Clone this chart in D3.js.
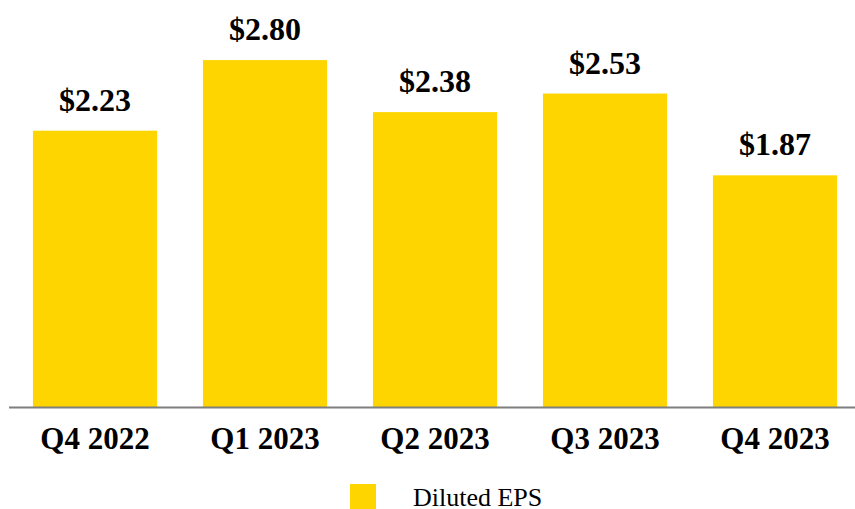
<!DOCTYPE html>
<html>
<head>
<meta charset="utf-8">
<script src="https://cdn.jsdelivr.net/npm/d3@7"></script>
<style>
  body { margin: 0; background: #fff; }
  svg { display: block; }
</style>
</head>
<body>
<script>
// quarters and diluted EPS values
const quarters = ['Q4 2022', 'Q1 2023', 'Q2 2023', 'Q3 2023', 'Q4 2023'];
const eps = [2.23, 2.80, 2.38, 2.53, 1.87];
const seriesName = 'Diluted EPS';

const width = 855, height = 509;
const barColor = '#FFD500';
const font = '"Liberation Serif", "Times New Roman", serif';

const svg = d3.select('body')
  .append('svg')
  .attr('width', width)
  .attr('height', height);

const x = d3.scaleBand()
  .domain(quarters)
  .range([10, 860])
  .paddingInner(0.27)
  .paddingOuter(0.135);

const y = d3.scaleLinear()
  .domain([0, 3])
  .range([407, 35.3]);

const data = quarters.map((q, i) => ({ q: q, v: eps[i] }));

// bars
svg.append('g')
  .selectAll('rect')
  .data(data)
  .enter()
  .append('rect')
  .attr('x', d => x(d.q))
  .attr('y', d => y(d.v))
  .attr('width', x.bandwidth())
  .attr('height', d => y(0) - y(d.v))
  .attr('fill', barColor);

// value labels
svg.append('g')
  .selectAll('text')
  .data(data)
  .enter()
  .append('text')
  .attr('x', d => x(d.q) + x.bandwidth() / 2)
  .attr('y', d => y(d.v) - 20)
  .attr('text-anchor', 'middle')
  .style('font-family', font)
  .style('font-weight', 'bold')
  .style('font-size', '32px')
  .text(d => '$' + d3.format('.2f')(d.v));

// baseline
svg.append('line')
  .attr('x1', 9)
  .attr('x2', 855)
  .attr('y1', y(0) + 0.5)
  .attr('y2', y(0) + 0.5)
  .attr('stroke', '#7f7f7f')
  .attr('stroke-width', 2);

// category axis
const xAxis = svg.append('g')
  .attr('transform', 'translate(0,' + y(0) + ')')
  .call(d3.axisBottom(x).tickSize(0).tickPadding(0));
xAxis.select('.domain').remove();
xAxis.selectAll('text')
  .attr('dy', null)
  .attr('y', 42)
  .attr('fill', '#000')
  .style('font-family', font)
  .style('font-weight', 'bold')
  .style('font-size', '31px');

// legend
const legend = svg.append('g');
legend.append('rect')
  .attr('x', 350)
  .attr('y', 484)
  .attr('width', 26)
  .attr('height', 26)
  .attr('fill', barColor);
legend.append('text')
  .attr('x', 413)
  .attr('y', 506)
  .style('font-family', font)
  .style('font-size', '26px')
  .text(seriesName);
</script>
</body>
</html>
